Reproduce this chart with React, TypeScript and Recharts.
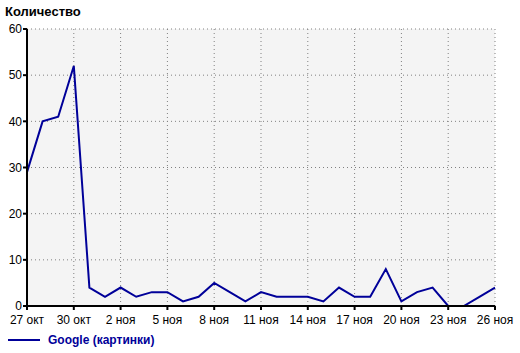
import React from 'react';
import {
    LineChart,
    Line,
    XAxis,
    YAxis,
    CartesianGrid,
} from 'recharts';

// one point per day, 27 Oct .. 26 Nov
const days = [
    '27 окт', '28 окт', '29 окт', '30 окт', '31 окт',
    '1 ноя', '2 ноя', '3 ноя', '4 ноя', '5 ноя', '6 ноя', '7 ноя', '8 ноя', '9 ноя', '10 ноя',
    '11 ноя', '12 ноя', '13 ноя', '14 ноя', '15 ноя', '16 ноя', '17 ноя', '18 ноя', '19 ноя', '20 ноя',
    '21 ноя', '22 ноя', '23 ноя', '24 ноя', '25 ноя', '26 ноя',
];

const googleImages = [
    29, 40, 41, 52, 4,
    2, 4, 2, 3, 3, 1, 2, 5, 3, 1,
    3, 2, 2, 2, 1, 4, 2, 2, 8, 1,
    3, 4, 0, 0, 2, 4,
];

const yTicks = [0, 10, 20, 30, 40, 50, 60];

const seriesName = 'Google (картинки)';
const lineColor = '#000099';

const data = days.map((d, i) => ({ day: d, value: googleImages[i] }));

const font = '"Liberation Sans", Arial, sans-serif';

export default function App() {
    return (
        <div style={{ position: 'absolute', left: 0, top: 0, width: 520, height: 353, background: '#fff' }}>
            <div
                style={{
                    position: 'absolute',
                    left: 5,
                    top: 4,
                    fontFamily: font,
                    fontWeight: 'bold',
                    fontSize: 13,
                    color: '#000',
                }}
            >
                Количество
            </div>
            <LineChart
                width={520}
                height={353}
                data={data}
                margin={{ top: 29, right: 25, left: 0, bottom: 27 }}
            >
                <CartesianGrid
                    strokeDasharray="1 3"
                    stroke="#808080"
                    fill="#f4f4f4"
                />
                <XAxis
                    dataKey="day"
                    interval={2}
                    height={20}
                    tick={{ fontSize: 12, fill: '#000', fontFamily: font }}
                    tickSize={4}
                    tickLine={{ stroke: '#000', strokeWidth: 2 }}
                    axisLine={{ stroke: '#000', strokeWidth: 2 }}
                    tickMargin={5}
                />
                <YAxis
                    domain={[0, 60]}
                    ticks={yTicks}
                    width={27}
                    tick={{ fontSize: 12, fill: '#000', fontFamily: font }}
                    tickSize={4}
                    tickLine={{ stroke: '#000', strokeWidth: 2 }}
                    axisLine={{ stroke: '#000', strokeWidth: 2 }}
                    tickMargin={1}
                />
                <Line
                    type="linear"
                    dataKey="value"
                    name={seriesName}
                    stroke={lineColor}
                    strokeWidth={2}
                    dot={false}
                    isAnimationActive={false}
                />
            </LineChart>
            {/* legend, drawn below the axis */}
            <div
                style={{
                    position: 'absolute',
                    left: 8,
                    top: 333,
                    display: 'flex',
                    alignItems: 'center',
                    fontFamily: font,
                }}
            >
                <div style={{ width: 32, height: 2, background: lineColor, marginRight: 8 }} />
                <span style={{ color: lineColor, fontWeight: 'bold', fontSize: 12 }}>{seriesName}</span>
            </div>
        </div>
    );
}
